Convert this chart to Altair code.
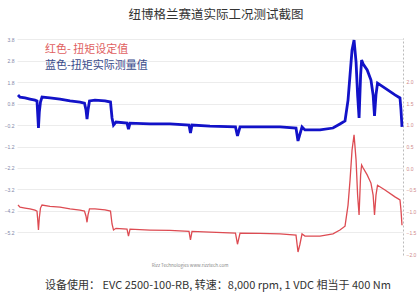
import altair as alt
import pandas as pd

# time axis (s) shared by both series
t = [1.3, 3.9, 10.4, 16.8, 23.3, 25.9, 26.9, 27.8, 28.9, 30.4, 32.4, 42.7, 55.7, 68.7, 81.6,
     87.4, 89.4, 90.7, 92.0, 93.9, 101.0, 114.0, 121.1, 123.1, 125.0, 128.2, 142.5, 144.4, 146.4,
     172.3, 198.2, 222.8, 224.7, 226.7, 250.0, 283.0, 285.6, 288.9, 314.8, 340.7, 361.4, 364.0,
     366.5, 369.2, 373.0, 392.5, 409.3, 418.3, 424.9, 428.8, 431.4, 434.0, 436.6, 439.2, 441.2,
     443.1, 445.1, 446.4, 448.4, 453.6, 458.5, 461.3, 463.1, 465.0, 467.0, 476.7, 489.6, 496.1,
     497.4, 498.7]
# blue: measured torque signal (V, left axis)
blue = [1.20, 1.10, 1.06, 1.01, 0.96, 0.92, 0.27, -0.34, 0.40, 0.87, 1.10, 1.06, 1.01, 0.92, 0.87,
        0.82, 0.50, 0.08, 0.50, 0.92, 0.96, 0.92, 0.87, 0.13, -0.20, -0.06, -0.11, -0.39, -0.11,
        -0.15, -0.15, -0.20, -0.57, -0.20, -0.25, -0.29, -0.71, -0.29, -0.29, -0.29, -0.34, -0.94,
        -0.62, -0.29, -0.43, -0.43, -0.34, -0.15, -0.01, 0.96, 2.13, 3.29, 3.75, 2.73, 1.20,
        0.13, 2.13, 2.82, 2.64, 2.36, 1.89, 1.20, 0.22, 1.20, 1.75, 1.52, 1.20, 1.06,
        0.50, -0.29]
# red: torque set point (V, right axis)
red = [-0.86, -0.91, -0.93, -0.95, -0.98, -1.00, -1.21, -1.44, -1.16, -0.93, -0.86, -0.89, -0.91, -0.95, -0.98,
       -1.00, -1.12, -1.26, -1.09, -0.95, -0.95, -0.97, -1.00, -1.30, -1.44, -1.40, -1.42, -1.58, -1.42,
       -1.44, -1.45, -1.47, -1.67, -1.47, -1.49, -1.51, -1.77, -1.51, -1.52, -1.53, -1.56, -1.95,
       -1.77, -1.53, -1.58, -1.58, -1.53, -1.44, -1.35, -0.86, -0.28, 0.42, 0.77, 0.19, -0.63,
       -1.09, -0.16, 0.07, 0.00, -0.16, -0.35, -0.63, -1.09, -0.63, -0.40, -0.51, -0.67, -0.74,
       -0.98, -1.33]

x_ticks = [0, 50, 100, 150, 200, 250, 300, 350, 400, 450]
left_ticks = [3.8, 2.8, 1.8, 0.8, -0.2, -1.2, -2.2, -3.2, -4.2, -5.2]
right_ticks = [2.0, 1.5, 1.0, 0.5, 0.0, -0.5, -1.0, -1.5, -2.0]

title_text = "纽博格兰赛道实际工况测试截图"
legend_red = "红色- 扭矩设定值"
legend_blue = "蓝色-扭矩实际测量值"
footer_text = "设备使用： EVC 2500-100-RB, 转速：8,000 rpm, 1 VDC 相当于 400 Nm"
watermark = "Rizz Technologies    www.rizztech.com"

FONT = "Noto Sans CJK SC"
df = pd.DataFrame({"t": t, "blue": blue, "red": red})

xs = alt.Scale(domain=[0, 500], nice=False, zero=False)

blue_line = alt.Chart(df).mark_line(color="#1212c8", strokeWidth=2.8).encode(
    x=alt.X("t:Q", scale=xs, axis=alt.Axis(
        values=x_ticks, labelExpr="datum.value == 0 ? '0.0' : datum.label",
        labelFontSize=5, labelColor="#7f86a8", grid=True, gridColor="#ececec",
        domain=True, domainColor="#dddddd", ticks=False, labelPadding=4, title=None)),
    y=alt.Y("blue:Q", scale=alt.Scale(domain=[-6.25, 3.85], nice=False, zero=False),
            axis=alt.Axis(values=left_ticks, format=".1f", labelFontSize=5,
                          labelColor="#7f86a8", grid=True, gridColor="#ececec",
                          domain=False, ticks=False, title=None, labelPadding=3)),
)

red_line = alt.Chart(df).mark_line(color="#dd4b52", strokeWidth=1.3).encode(
    x=alt.X("t:Q", scale=xs, axis=None),
    y=alt.Y("red:Q", scale=alt.Scale(domain=[-2.02, 3.02], nice=False, zero=False),
            axis=alt.Axis(orient="right", values=right_ticks, format=".1f", labelFontSize=5,
                          labelColor="#d08a8a", grid=False, domain=True, domainDash=[2, 2],
                          domainColor="#bbbbbb", ticks=False, title=None, labelPadding=3)),
)


def txt(s, x, y, size, color, align="left"):
    return alt.Chart(pd.DataFrame({"s": [s]})).mark_text(
        font=FONT, fontSize=size, color=color, align=align, baseline="middle"
    ).encode(text="s:N", x=alt.value(x), y=alt.value(y))


chart = alt.layer(
    blue_line,
    red_line,
    txt(title_text, 199, -23, 12.5, "#333333", "center"),
    txt(legend_red, 28, 12, 11, "#e06060"),
    txt(legend_blue, 28, 28, 11, "#3a4a8a"),
    txt(footer_text, 201, 248, 11, "#333333", "center"),
    txt(watermark, 173, 228, 4.5, "#888888", "center"),
).resolve_scale(y="independent").properties(
    width=386, height=217,
    padding={"left": 17, "top": 38, "right": 17, "bottom": 47},
    autosize=alt.AutoSizeParams(type="none"),
    background="white",
).configure_view(stroke="transparent")

chart.save("out.html", embed_options={"renderer": "svg", "actions": False})
